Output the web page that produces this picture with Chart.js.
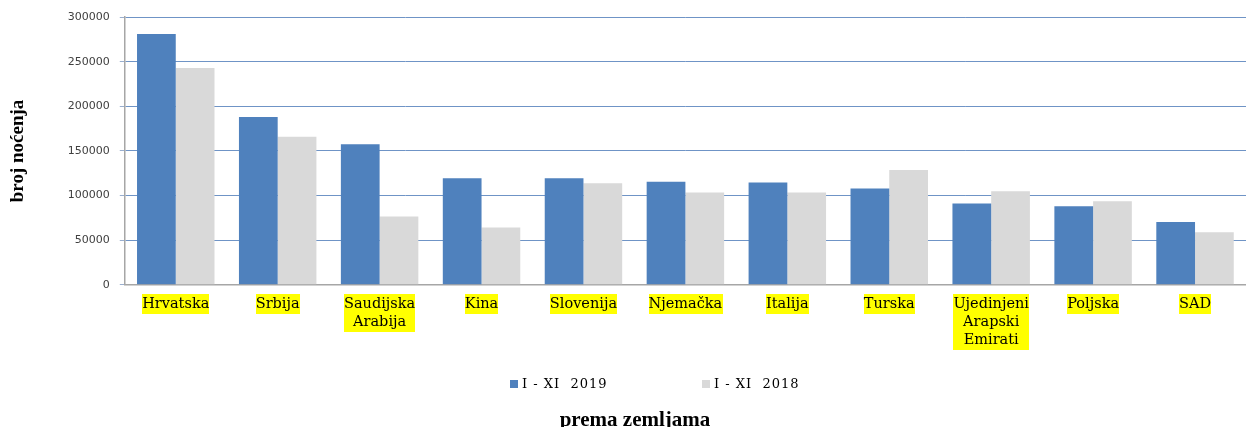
<!DOCTYPE html>
<html>
<head>
<meta charset="utf-8">
<script src="https://cdn.jsdelivr.net/npm/chart.js@4/dist/chart.umd.min.js"></script>
<style>
  html, body { margin: 0; padding: 0; background: #fff; }
  #wrap { width: 1246px; height: 427px; position: relative; }
</style>
</head>
<body>
<div id="wrap"><canvas id="chart"></canvas></div>
<script>
const countries = [
  "Hrvatska", "Srbija", ["Saudijska", "Arabija"], "Kina", "Slovenija", "Njemačka",
  "Italija", "Turska", ["Ujedinjeni", "Arapski", "Emirati"], "Poljska", "SAD"
]
const nights2019 = [281000, 188000, 157500, 119500, 119500, 115400, 114700, 107900, 91000, 88000, 70300]
const nights2018 = [242800, 165800, 76700, 64300, 113900, 103400, 103400, 128600, 104900, 93600, 59000]
const seriesNames = ["I - XI  2019", "I - XI  2018"]
const yMax = 300000
const yStep = 50000

const labelFontSize = 14.5
const labelLineHeight = 1.24

// yellow highlight behind the country names (built-in backdrop breaks on multi-line labels)
const labelHighlight = {
  id: "labelHighlight",
  beforeDraw(chart, args, opts) {
    const scale = chart.scales.x
    const ctx = chart.ctx
    const lh = labelFontSize * labelLineHeight
    ctx.save()
    ctx.font = labelFontSize + 'px "DejaVu Serif"'
    ctx.fillStyle = opts.color
    chart.data.labels.forEach((lab, i) => {
      const lines = [].concat(lab)
      const w = Math.max(...lines.map(l => ctx.measureText(l).width))
      const x = scale.getPixelForTick(i)
      const top = scale.top + scale.options.ticks.padding
      ctx.fillRect(Math.round(x - w / 2), Math.round(top - 1), Math.round(w), Math.round(lines.length * lh + 2))
    })
    ctx.restore()
  }
}

// legend is spread wide in the original, so draw it by hand under the tick labels
const wideLegend = {
  id: "wideLegend",
  afterDraw(chart, args, opts) {
    const ctx = chart.ctx
    ctx.save()
    ctx.font = '13px "DejaVu Serif"'
    ctx.letterSpacing = "1px"
    ctx.textBaseline = "middle"
    chart.data.datasets.forEach((ds, i) => {
      const x = opts.x + i * opts.gap
      ctx.fillStyle = ds.backgroundColor
      ctx.fillRect(x, opts.y - 4, 8, 8)
      ctx.fillStyle = "#000"
      ctx.fillText(ds.label, x + 12, opts.y + 1)
    })
    ctx.restore()
  }
}

// nudge the bottom title a little right, like the original
const shiftTitle = {
  id: "shiftTitle",
  afterLayout(chart) {
    if (chart.titleBlock) chart.titleBlock.left += 24
  }
}

new Chart(document.getElementById("chart"), {
  type: "bar",
  data: {
    labels: countries,
    datasets: [
      { label: seriesNames[0], data: nights2019, backgroundColor: "#4F81BD" },
      { label: seriesNames[1], data: nights2018, backgroundColor: "#D9D9D9" }
    ]
  },
  plugins: [labelHighlight, wideLegend, shiftTitle],
  options: {
    responsive: true,
    maintainAspectRatio: false,
    animation: false,
    layout: { padding: { top: 17, left: 0, right: 0, bottom: 0 } },
    datasets: {
      bar: { categoryPercentage: 0.76, barPercentage: 1.0, borderWidth: 0 }
    },
    plugins: {
      legend: { display: false },
      tooltip: { enabled: false },
      title: {
        display: true,
        position: "bottom",
        text: "prema zemljama",
        color: "#000",
        font: { family: "Liberation Serif", size: 21, weight: "bold" },
        padding: { top: 49, bottom: -6 }
      },
      labelHighlight: { color: "#FFFF00" },
      wideLegend: { x: 510, y: 384, gap: 192 }
    },
    scales: {
      x: {
        offset: true,
        grid: { display: false, drawTicks: false },
        border: { display: true, color: "#A6A6A6", width: 1.5 },
        ticks: {
          autoSkip: false,
          maxRotation: 0,
          padding: 10,
          color: "#000",
          font: { family: "DejaVu Serif", size: labelFontSize, lineHeight: labelLineHeight }
        }
      },
      y: {
        min: 0,
        max: yMax,
        grid: {
          color: "#6F94C6",
          lineWidth: 1,
          drawTicks: true,
          tickLength: 5,
          tickColor: "#9AAFCF"
        },
        border: { display: true, color: "#A6A6A6", width: 1.5 },
        ticks: {
          stepSize: yStep,
          padding: 10,
          color: "#404040",
          font: { family: "DejaVu Sans", size: 11 },
          callback: v => String(v)
        },
        title: {
          display: true,
          text: "broj noćenja",
          color: "#000",
          font: { family: "Liberation Serif", size: 19, weight: "bold" },
          padding: { top: 7, bottom: 28 }
        }
      }
    }
  }
})
</script>
</body>
</html>
